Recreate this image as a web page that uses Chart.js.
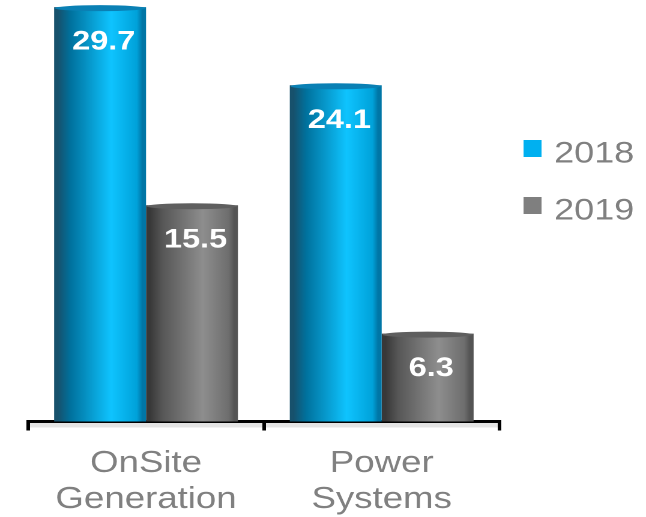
<!DOCTYPE html>
<html>
<head>
<meta charset="utf-8">
<script src="https://cdn.jsdelivr.net/npm/chart.js@4.4.1/dist/chart.umd.min.js"></script>
<style>
  html, body { margin: 0; padding: 0; background: #fff; overflow: hidden; }
  #wrap { width: 646px; height: 517px; }
  /* the source picture is stretched sideways by about 1.2, so the canvas is too */
  #bar-chart { width: 646px; height: 517px; display: block; }
</style>
</head>
<body>
<div id="wrap"><canvas id="bar-chart" width="538" height="517" style="width:646px;height:517px"></canvas></div>
<script>
// ---------------------------------------------------
// DATA
// ---------------------------------------------------
const categories = [ [ 'OnSite', 'Generation' ], [ 'Power', 'Systems' ] ];
const seriesNames = [ '2018', '2019' ];
const values2018 = [ 29.7, 24.1 ];
const values2019 = [ 15.5, 6.3 ];
// ---------------------------------------------------
const FONT = '"Liberation Sans", Arial, sans-serif';
const swatch = [ '#00b0f0', '#7f7f7f' ];
const shades = [
    [ '#17516c', '#00729e', '#0fc4ff', '#00a2da', '#0076a6' ],
    [ '#383838', '#575757', '#8e8e8e', '#6e6e6e', '#545454' ]
];
const capShade = [ '#0a80b4', '#5f5f5f' ];
const CAT_PCT = 0.78;

// cylinder-like horizontal gradient for each bar
function barFill( ctx ) {
    const chart = ctx.chart;
    const area = chart.chartArea;
    const set = shades[ ctx.datasetIndex ];
    if ( !area || ctx.dataIndex === undefined ) return swatch[ ctx.datasetIndex ];
    const xs = chart.scales.x;
    const catW = ( area.right - area.left ) / categories.length;
    const barW = catW * CAT_PCT / seriesNames.length;
    const left = xs.getPixelForValue( ctx.dataIndex ) - catW * CAT_PCT / 2 + ctx.datasetIndex * barW;
    const g = chart.ctx.createLinearGradient( left, 0, left + barW, 0 );
    g.addColorStop( 0, set[ 0 ] );
    g.addColorStop( 0.04, set[ 0 ] );
    g.addColorStop( 0.18, set[ 1 ] );
    g.addColorStop( 0.62, set[ 2 ] );
    g.addColorStop( 0.9, set[ 3 ] );
    g.addColorStop( 0.96, set[ 4 ] );
    g.addColorStop( 1, set[ 4 ] );
    return g;
}

// floor band, bar caps, value labels and legend
const decor = {
    id: 'decor',
    beforeDraw( chart ) {
        const c = chart.ctx, a = chart.chartArea;
        c.save();
        c.fillStyle = '#e4e4e4';
        c.fillRect( a.left, a.bottom + 1.5, a.right - a.left, 4.5 );
        c.restore();
    },
    afterDatasetsDraw( chart ) {
        const c = chart.ctx;
        c.save();
        chart.data.datasets.forEach( ( ds, di ) => {
            chart.getDatasetMeta( di ).data.forEach( ( bar, i ) => {
                // top rim of the cylinder
                c.fillStyle = capShade[ di ];
                c.beginPath();
                c.ellipse( bar.x, bar.y + 1, bar.width / 2 - 0.5, 3, 0, 0, Math.PI * 2 );
                c.fill();
                c.fillStyle = '#ffffff';
                c.font = 'bold 27px ' + FONT;
                c.textAlign = 'center';
                c.textBaseline = 'middle';
                c.fillText( ds.data[ i ].toFixed( 1 ), bar.x + 3, bar.y + 35 );
            } );
        } );
        // legend
        c.textAlign = 'left';
        c.textBaseline = 'alphabetic';
        c.font = '30px ' + FONT;
        seriesNames.forEach( ( name, i ) => {
            const y = 140 + i * 57;
            c.fillStyle = swatch[ i ];
            c.fillRect( 436, y, 15, 17 );
            c.fillStyle = '#808080';
            c.fillText( name, 461.5, y + 22.5 );
        } );
        c.restore();
    }
};

const barChart = new Chart( document.querySelector( '#bar-chart' ), {
    type: 'bar',
    data: {
        labels: categories,
        datasets: [
            { label: seriesNames[ 0 ], data: values2018, backgroundColor: barFill },
            { label: seriesNames[ 1 ], data: values2019, backgroundColor: barFill }
        ]
    },
    options: {
        responsive: false,
        devicePixelRatio: 2,
        animation: false,
        layout: { padding: { left: 23.5, right: 122, top: 3, bottom: 0 } },
        datasets: { bar: { categoryPercentage: CAT_PCT, barPercentage: 1 } },
        plugins: { legend: { display: false }, tooltip: { enabled: false } },
        scales: {
            x: {
                offset: true,
                afterFit: function ( scale ) { scale.height = 95.5; },
                grid: { display: true, drawOnChartArea: false, drawTicks: true, tickLength: 9, color: '#000', lineWidth: 3, offset: true },
                border: { display: true, color: '#000', width: 3 },
                ticks: {
                    color: '#808080',
                    padding: 15,
                    maxRotation: 0,
                    font: { family: FONT, size: 30.5, lineHeight: 1.18 }
                }
            },
            y: {
                display: false,
                min: 0,
                max: 30
            }
        }
    },
    plugins: [ decor ]
} );
</script>
</body>
</html>
